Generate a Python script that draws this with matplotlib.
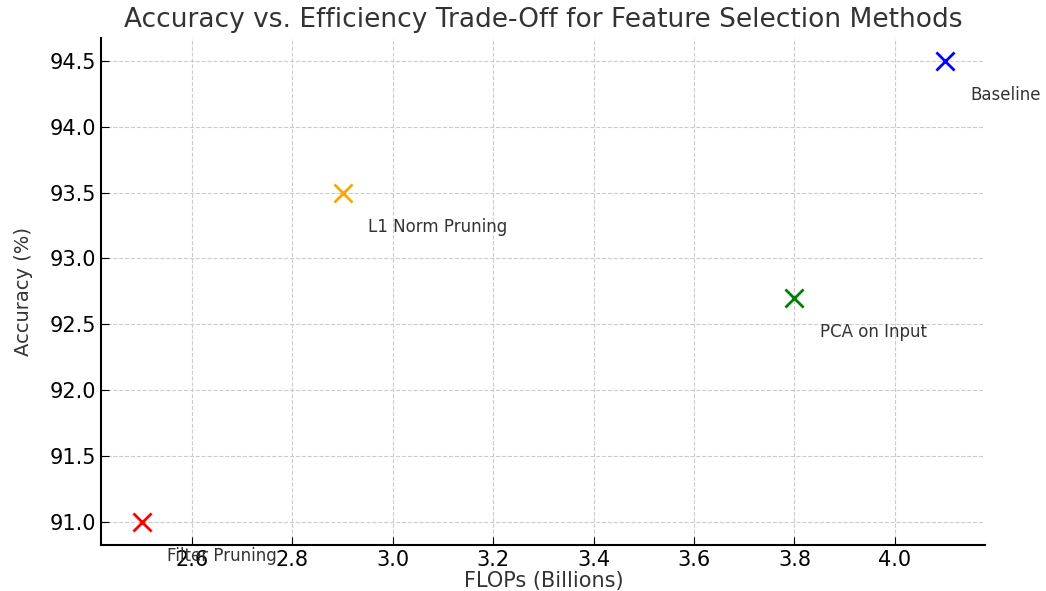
import matplotlib
matplotlib.use('Agg')
import matplotlib.pyplot as plt

# data
methods = ['Baseline', 'L1 Norm Pruning', 'Filter Pruning', 'PCA on Input']
flops = [4.1, 2.9, 2.5, 3.8]
accuracy = [94.5, 93.5, 91.0, 92.7]
colors = ['blue', 'orange', 'red', 'green']

fig, ax = plt.subplots(figsize=(10.46, 5.91), dpi=100)

for m, f, a, c in zip(methods, flops, accuracy, colors):
    ax.scatter(f, a, color=c, marker='x', s=170, linewidths=2, zorder=3)
    ax.text(f + 0.05, a - 0.3, m, fontsize=12, color='#333333')

ax.set_title('Accuracy vs. Efficiency Trade-Off for Feature Selection Methods',
             fontsize=19, color='#333333', pad=8)
ax.set_xlabel('FLOPs (Billions)', fontsize=15, color='#333333', labelpad=1)
ax.set_ylabel('Accuracy (%)', fontsize=14, color='#333333', labelpad=12)
ax.tick_params(direction='in', labelsize=15, length=6)
ax.grid(True, linestyle='--', color='#cccccc', linewidth=0.8)
ax.spines['top'].set_visible(False)
ax.spines['right'].set_visible(False)
ax.spines['left'].set_linewidth(1.5)
ax.spines['bottom'].set_linewidth(1.5)

fig.subplots_adjust(left=0.097, right=0.942, top=0.936, bottom=0.078)
fig.savefig('out.png')
